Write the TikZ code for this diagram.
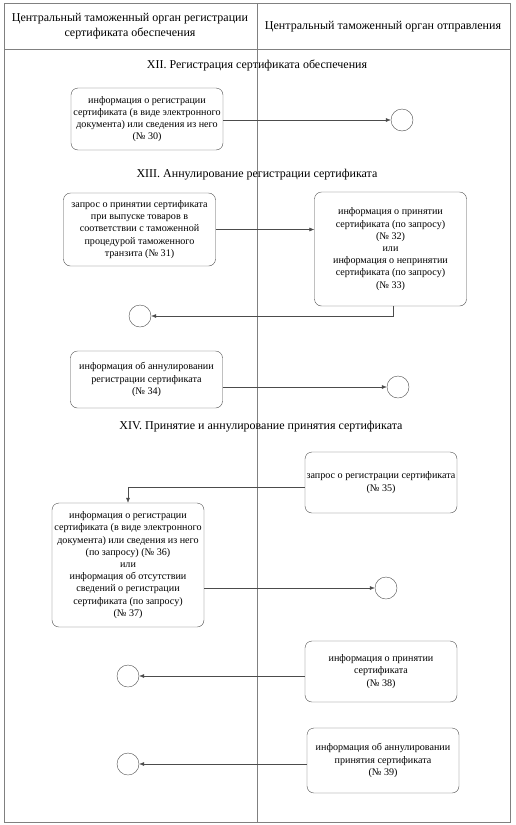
\documentclass[tikz,border=0pt]{standalone}
\usepackage{fontspec}
\setmainfont{Liberation Serif}
\usetikzlibrary{arrows.meta}

\begin{document}
\begin{tikzpicture}[x=1pt,y=-1pt,
	lane/.style={draw=black!50,line width=0.6pt},
	msgbox/.style={draw=black!70,rounded corners=7pt,align=center,inner sep=1pt,
		minimum width=152pt,font=\fontsize{10.1}{12.2}\selectfont},
	endpt/.style={draw=black!70,circle,minimum size=22pt,inner sep=0pt},
	flow/.style={draw=black!70,line width=0.5pt,-{Latex[length=5pt,width=4pt]}},
	title/.style={font=\fontsize{12}{14}\selectfont},
	head/.style={align=center,font=\fontsize{12}{15}\selectfont}]

				    \useasboundingbox (0,0) rectangle (515,825);

				    % Lanes
				    \draw [lane] (4,3) rectangle (510,822);
				    \draw [lane] (4,49) -- (510,49);
				    \draw [lane] (257,3) -- (257,822);
				    \node [head] (hreg) at (130,26) {Центральный таможенный орган регистрации\\сертификата обеспечения};
				    \node [head] (hdep) at (383,27) {Центральный таможенный орган отправления};

				    % XII
				    \node [title] (t12) at (257,65) {XII. Регистрация  сертификата обеспечения};
				    \node [msgbox,minimum height=62pt] (reg30) at (147,119) {информация о регистрации\\сертификата (в виде электронного\\документа) или сведения из него\\(№ 30)};
				    \node [endpt] (end30) at (402,120) {};

				    % XIII
				    \node [title] (t13) at (257,175) {XIII. Аннулирование регистрации сертификата};
				    \node [msgbox,minimum height=73pt] (req31) at (139.5,229.5) {запрос о принятии сертификата\\при выпуске товаров в\\соответствии с таможенной\\процедурой таможенного\\транзита  (№ 31)};
				    \node [msgbox,minimum height=114pt] (acc32) at (390.5,249) {информация о принятии\\сертификата (по запросу)\\(№ 32)\\или\\информация о непринятии\\сертификата (по запросу)\\(№ 33)};
				    \node [endpt] (end33) at (140,316) {};
				    \node [msgbox,minimum height=57pt] (ann34) at (146.5,379.5) {информация об аннулировании\\регистрации сертификата\\(№ 34)};
				    \node [endpt] (end34) at (398,387) {};

				    % XIV
				    \node [title] (t14) at (261,427) {XIV. Принятие и аннулирование принятия сертификата};
				    \node [msgbox,minimum height=61pt] (req35) at (381,482.5) {запрос о регистрации сертификата\\(№ 35)};
				    \node [msgbox,minimum height=124pt] (reg36) at (128,565) {информация о регистрации\\сертификата (в виде электронного\\документа) или сведения из него\\(по запросу) (№ 36)\\или\\информация об отсутствии\\сведений о регистрации\\сертификата (по запросу)\\(№ 37)};
				    \node [endpt] (end37) at (386,588) {};
				    \node [msgbox,minimum height=61pt] (acc38) at (381,671.5) {информация о принятии\\сертификата\\(№ 38)};
				    \node [endpt] (end38) at (128,676) {};
				    \node [msgbox,minimum height=65pt] (ann39) at (383,760.5) {информация об аннулировании\\принятия сертификата\\(№ 39)};
				    \node [endpt] (end39) at (128,764) {};

				    % Messages
				    \draw [flow] (reg30.east |- end30) -- (end30);
				    \draw [flow] (req31.east) -- (req31.east -| acc32.west);
				    \draw [flow] ([xshift=3pt]acc32.south) |- (end33);
				    \draw [flow] (ann34.east |- end34) -- (end34);
				    \draw [flow] ([yshift=-5pt]req35.west) -| (reg36.north);
				    \draw [flow] (reg36.east |- end37) -- (end37);
				    \draw [flow] (acc38.west |- end38) -- (end38);
				    \draw [flow] (ann39.west |- end39) -- (end39);

				\end{tikzpicture}
\end{document}
